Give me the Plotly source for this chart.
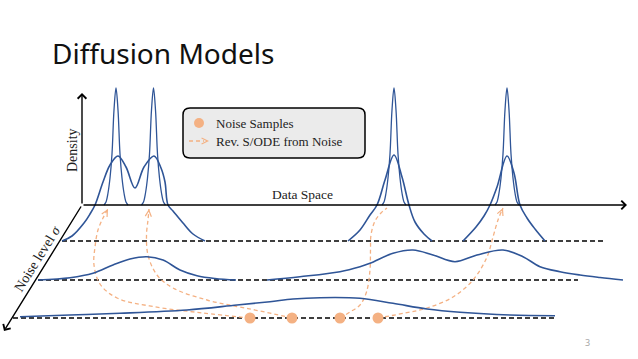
import plotly.graph_objects as go

W, H = 638, 359

# ---------------- data (screen-like units) ----------------
# vertical position of each noise level baseline (level 0 = data space)
level_base = [205, 241, 280, 318]
# dashed noise-level lines (levels 1..3): start / end along data space
dash_start = [62, 38, 13]
dash_end = [603, 578, 555]

# level 0: sharp data modes
data_modes = [116, 153.5, 394, 507]
peak_dx = [-12, -10, -8, -6, -4, -2, 0, 2, 4, 6, 8, 10, 12]
peak_h = [0, 3, 12, 27, 51, 95, 117, 95, 51, 27, 12, 3, 0]

# level 1 curves (x, vertical position)
l1a_x = [62, 72, 84, 90, 95, 103, 110, 118, 126, 135, 144, 154, 161, 165, 168, 173, 183, 193, 205]
l1a_y = [241, 236, 223, 214, 205, 182, 165, 156, 167, 188, 167, 156, 168, 182, 205, 211, 223, 234, 241]
l1b_x = [348, 360, 370, 377, 385, 394, 402, 409, 415, 424, 432]
l1b_y = [241, 230, 215, 205, 180, 155, 177, 205, 222, 234, 241]
l1c_x = [463, 476, 484, 490, 497, 507, 514, 520, 527, 535, 545]
l1c_y = [241, 227, 216, 205, 187, 156, 173, 205, 218, 229, 241]

# level 2 curves
l2a_x = [38, 70, 93, 113, 130, 147, 163, 180, 197, 215, 236]
l2a_y = [280, 277.7, 273.3, 265, 259, 256.7, 260, 270, 275.7, 278.5, 280]
l2b_x = [267, 300, 340, 360, 370, 393, 413, 433, 455, 477, 503, 523, 540, 560, 580, 600, 623]
l2b_y = [280, 276.7, 271.7, 266.7, 263.3, 253.3, 250, 255, 261.7, 255, 250, 256.7, 266.7, 271.7, 275, 277.5, 280]

# level 3 curve
l3_x = [20, 70, 120, 187, 237, 270, 293, 320, 360, 393, 427, 460, 510, 555]
l3_y = [316.7, 315, 313.3, 310, 305, 301.7, 299, 297.7, 298.3, 303.3, 309, 312.3, 315, 315.7]

# noise samples on the highest noise level
noise_x = [250, 292, 340, 378]

# reverse S/ODE trajectories (from noise sample up to data mode)
p1_x = [250, 203, 153, 117, 100, 94, 95, 98, 103, 108]
p1_y = [318, 313, 306.5, 298, 284, 265, 247, 230, 218, 209]
p2_x = [292, 260, 237, 207, 173, 157, 148, 146.5, 148, 149]
p2_y = [318, 311, 306.5, 300, 288, 275, 255, 235, 220, 209]
p3_x = [340, 350, 360, 366.5, 370, 370.5, 371, 375, 381, 387]
p3_y = [318, 312, 305, 292, 270, 250, 235, 221, 213, 208]
p4_x = [378, 405, 427, 453, 473, 487, 493, 498, 503]
p4_y = [318, 313, 308, 297, 280, 257, 237, 220, 208]
paths = [(p1_x, p1_y), (p2_x, p2_y), (p3_x, p3_y), (p4_x, p4_y)]

BLUE = "#2F5597"
ORANGE = "#F4B183"
SERIF = "Liberation Serif"

fig = go.Figure()

# dashed noise-level lines
for i in range(3):
    yb = level_base[i + 1]
    fig.add_trace(go.Scatter(x=[dash_start[i], dash_end[i]], y=[yb, yb], mode="lines",
                             line=dict(color="black", width=1.6, dash="5px,3px"),
                             hoverinfo="skip"))

# orange reverse trajectories
for px, py in paths:
    fig.add_trace(go.Scatter(x=px, y=py, mode="lines",
                             line=dict(color=ORANGE, width=1.3, dash="4px,3px", shape="spline"),
                             hoverinfo="skip"))

# level 0 sharp peaks
for m in data_modes:
    fig.add_trace(go.Scatter(x=[m + d for d in peak_dx], y=[level_base[0] - h for h in peak_h],
                             mode="lines", line=dict(color=BLUE, width=1.3, shape="spline"),
                             hoverinfo="skip"))

# noisy densities
for cx, cy in [(l1a_x, l1a_y), (l1b_x, l1b_y), (l1c_x, l1c_y),
               (l2a_x, l2a_y), (l2b_x, l2b_y), (l3_x, l3_y)]:
    fig.add_trace(go.Scatter(x=cx, y=cy, mode="lines",
                             line=dict(color=BLUE, width=1.6, shape="spline"),
                             hoverinfo="skip"))

# noise sample dots
fig.add_trace(go.Scatter(x=noise_x, y=[level_base[3]] * len(noise_x), mode="markers",
                         marker=dict(color=ORANGE, size=11), hoverinfo="skip"))

# legend
fig.add_shape(type="path",
              path="M 190,108 L 358,108 Q 365,108 365,115 L 365,151 Q 365,158 358,158 "
                   "L 190,158 Q 183,158 183,151 L 183,115 Q 183,108 190,108 Z",
              xref="x", yref="y", fillcolor="#EBEBEB", line=dict(color="black", width=1.5),
              layer="below")
fig.add_trace(go.Scatter(x=[199], y=[123], mode="markers",
                         marker=dict(color=ORANGE, size=10), hoverinfo="skip"))
fig.add_trace(go.Scatter(x=[189, 204], y=[141, 141], mode="lines",
                         line=dict(color=ORANGE, width=1.3, dash="4px,3px"), hoverinfo="skip"))

ann = []
def arrow(x0, y0, x1, y1, color, width, head=4, size=1.0):
    ann.append(dict(x=x1, y=y1, ax=x0, ay=y0, xref="x", yref="y", axref="x", ayref="y",
                    showarrow=True, arrowhead=head, arrowsize=size, arrowwidth=width,
                    arrowcolor=color, standoff=0, startstandoff=0, text=""))

# axes
arrow(82, 205, 82, 93, "black", 1.4, head=4, size=1.2)
arrow(82, 205, 627, 205, "black", 1.4, head=4, size=1.2)
arrow(82, 205, 4, 331, "black", 1.4, head=4, size=1.2)

# arrowheads of trajectories
for px, py in paths:
    arrow(px[-2] + (px[-1] - px[-2]) * 0.6, py[-2] + (py[-1] - py[-2]) * 0.6,
          px[-1], py[-1], ORANGE, 1.2, head=5, size=1.0)
arrow(205, 141, 209, 141, ORANGE, 1.2, head=5, size=1.0)

# texts
ann.append(dict(x=50, y=53, xref="x", yref="y", text="Diffusion Models", showarrow=False,
                xanchor="left", yanchor="middle",
                font=dict(family="Noto Sans", size=28, color="#111111")))
ann.append(dict(x=72, y=150, xref="x", yref="y", text="Density", showarrow=False,
                textangle=-90, font=dict(family=SERIF, size=14, color="#222222")))
ann.append(dict(x=302, y=194, xref="x", yref="y", text="Data Space", showarrow=False,
                font=dict(family=SERIF, size=13.5, color="#222222")))
ann.append(dict(x=37.5, y=258.5, xref="x", yref="y", text="Noise level <i>σ</i>", showarrow=False,
                textangle=-58, font=dict(family=SERIF, size=14, color="#222222")))
ann.append(dict(x=214, y=123, xref="x", yref="y", text="Noise Samples", showarrow=False,
                xanchor="left", font=dict(family=SERIF, size=13, color="#222222")))
ann.append(dict(x=214, y=141, xref="x", yref="y", text="Rev. S/ODE from Noise", showarrow=False,
                xanchor="left", font=dict(family=SERIF, size=13, color="#222222")))
ann.append(dict(x=587, y=342, xref="x", yref="y", text="3", showarrow=False,
                font=dict(family="Noto Sans", size=9, color="#A6A6A6")))

fig.update_layout(
    width=W, height=H, margin=dict(l=0, r=0, t=0, b=0),
    paper_bgcolor="white", plot_bgcolor="white", showlegend=False,
    xaxis=dict(range=[0, W], visible=False, fixedrange=True),
    yaxis=dict(range=[H, 0], visible=False, fixedrange=True),
    annotations=ann,
)

fig.write_html("out.html", config={"displayModeBar": False},
               post_script="document.body.style.margin='0';document.body.style.overflow='hidden';")
